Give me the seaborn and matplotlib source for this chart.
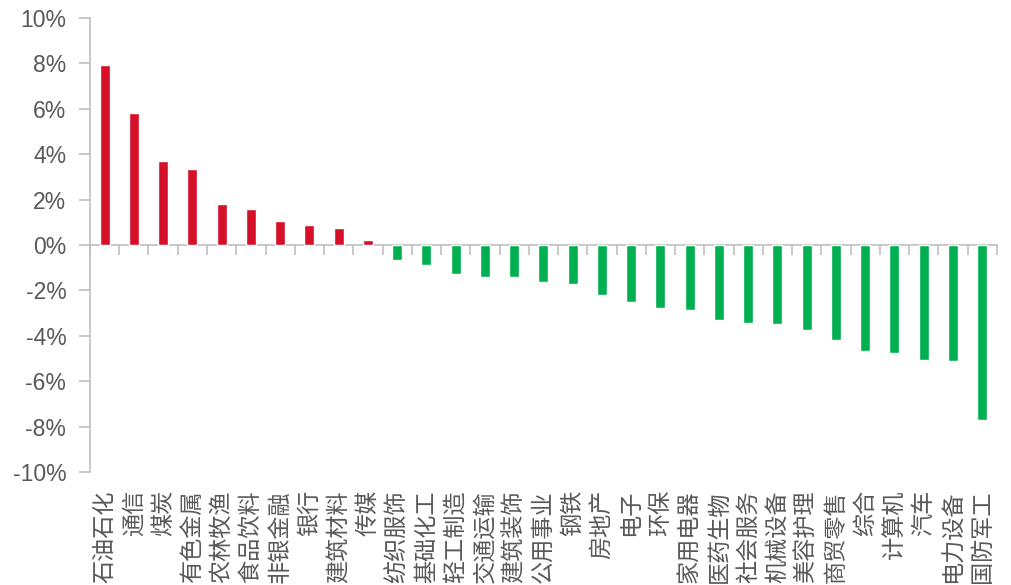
import seaborn as sns
import matplotlib.pyplot as plt
import pandas as pd
from matplotlib.ticker import FixedLocator, FuncFormatter, NullFormatter

# industries, sorted by return
industries = ["石油石化", "通信", "煤炭", "有色金属", "农林牧渔", "食品饮料", "非银金融", "银行",
              "建筑材料", "传媒", "纺织服饰", "基础化工", "轻工制造", "交通运输", "建筑装饰",
              "公用事业", "钢铁", "房地产", "电子", "环保", "家用电器", "医药生物", "社会服务",
              "机械设备", "美容护理", "商贸零售", "综合", "计算机", "汽车", "电力设备", "国防军工"]
returns = [7.94, 5.82, 3.68, 3.36, 1.81, 1.57, 1.04, 0.86, 0.73, 0.22,
           -0.68, -0.86, -1.26, -1.39, -1.43, -1.65, -1.70, -2.22, -2.53, -2.79,
           -2.88, -3.32, -3.45, -3.50, -3.76, -4.20, -4.68, -4.77, -5.07, -5.11, -7.71]
y_ticks = [-10, -8, -6, -4, -2, 0, 2, 4, 6, 8, 10]

df = pd.DataFrame({"industry": industries, "ret": returns})
df["sign"] = ["up" if r >= 0 else "down" for r in returns]

sns.set_style("white")
plt.rcParams["font.family"] = ["Liberation Sans", "Noto Sans CJK SC", "DejaVu Sans"]

grey_text = "#595959"
grey_line = "#BFBFBF"

fig = plt.figure(figsize=(10.11, 5.85), dpi=100)
ax = fig.add_axes([0.089, 0.1932, 0.897, 0.776])

sns.barplot(data=df, x="industry", y="ret", hue="sign",
            palette={"up": "#D7102A", "down": "#00B050"},
            width=0.34, saturation=1, legend=False, ax=ax)

ax.set_xlim(-0.5, len(industries) - 0.5)
ax.set_ylim(-10, 10)
ax.set_yticks(y_ticks)
ax.yaxis.set_major_formatter(FuncFormatter(lambda v, p: f"{v:.0f}%"))
ax.tick_params(axis="y", left=True, length=8, width=1.2, color=grey_line,
               labelsize=16.5, labelcolor=grey_text, pad=9)
ax.set_xlabel("")
ax.set_ylabel("")

# category labels at the bottom
ax.set_xticks(range(len(industries)))
ax.set_xticklabels(industries, rotation=90, family=["Noto Sans CJK SC", "DejaVu Sans"],
                   fontsize=16.7, color=grey_text)
ax.tick_params(axis="x", bottom=False, length=0, pad=13)

for s in ["top", "right", "bottom"]:
    ax.spines[s].set_visible(False)
ax.spines["left"].set_color(grey_line)
ax.spines["left"].set_linewidth(1.2)

# zero line with ticks between categories
sec = ax.secondary_xaxis(0.5)
for s in sec.spines.values():
    s.set_color(grey_line)
    s.set_linewidth(1.2)
sec.xaxis.set_major_locator(FixedLocator([i - 0.5 for i in range(len(industries) + 1)]))
sec.xaxis.set_major_formatter(NullFormatter())
sec.tick_params(axis="x", direction="in", length=7, width=1.2, color=grey_line,
                labeltop=False, labelbottom=False)

fig.savefig("out.png", dpi=100)
